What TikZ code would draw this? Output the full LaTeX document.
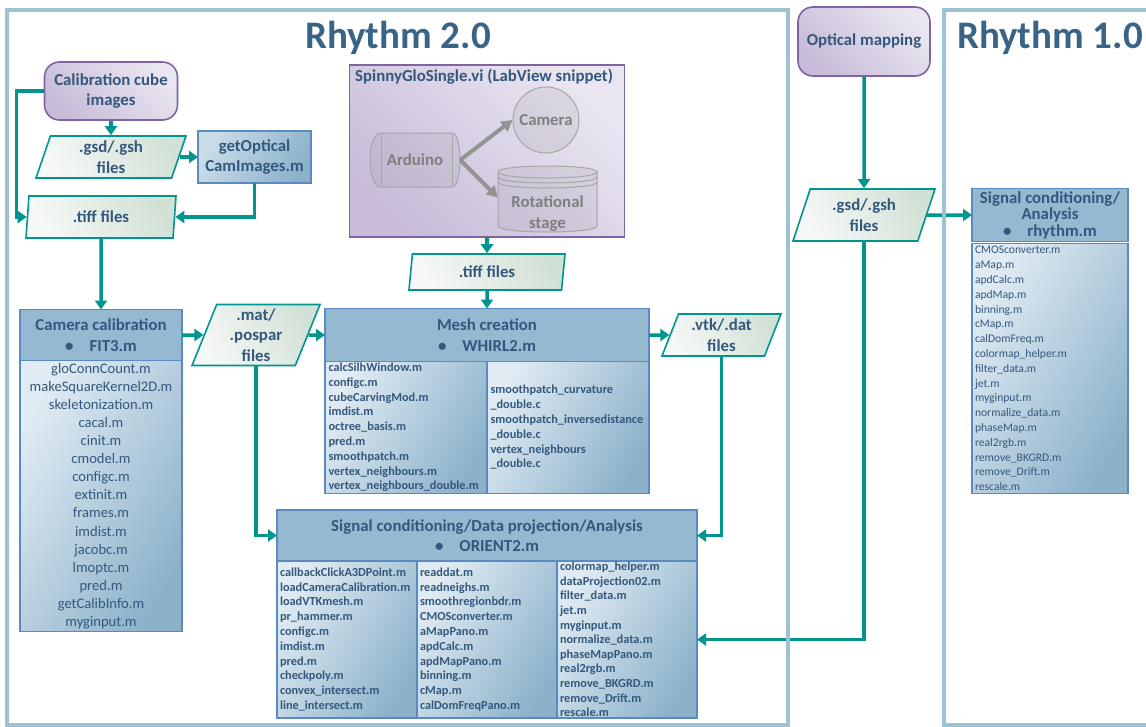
\documentclass[tikz,border=0pt]{standalone}
\usepackage{fontspec}
\setmainfont{Carlito}
\usepackage{tikz}
\usetikzlibrary{shapes.geometric, arrows.meta, positioning}
\usepackage{xcolor}

\definecolor{framecol}{HTML}{9CC2D3}
\definecolor{titlecol}{HTML}{3A6388}
\definecolor{txtblue}{HTML}{34587D}
\definecolor{flowcol}{HTML}{00968F}
\definecolor{boxline}{HTML}{5A8AC0}
\definecolor{hdrfill}{HTML}{95B9D0}
\definecolor{listlight}{HTML}{E0EBF3}
\definecolor{listdark}{HTML}{8CB2CA}
\definecolor{datalight}{HTML}{F6F8F6}
\definecolor{datadark}{HTML}{D2E1D6}
\definecolor{purpline}{HTML}{8064A2}
\definecolor{purplight}{HTML}{EAE6F1}
\definecolor{purpdark}{HTML}{C8BCD9}
\definecolor{grayline}{HTML}{A6A6A6}
\definecolor{graytext}{HTML}{7F7F7F}

\begin{document}
\begin{tikzpicture}[
  x=1pt, y=-1pt,
  bigfont/.style={font=\fontsize{16.8}{20.5}\selectfont\bfseries},
  smallfont/.style={font=\fontsize{12.3}{14.8}\selectfont\bfseries},
  frame/.style={draw=framecol, line width=4pt},
  rtitle/.style={text=titlecol, font=\fontsize{39}{42}\selectfont\bfseries},
  source/.style={bigfont, draw=purpline, line width=1.6pt, rounded corners=15pt,
    left color=purpdark, right color=purplight, shading angle=135, text=txtblue, align=center},
  datafile/.style={bigfont, trapezium, trapezium left angle=65, trapezium right angle=115,
    trapezium stretches body, draw=flowcol, line width=1.6pt, left color=datalight,
    right color=datadark, shading angle=120, text=txtblue, align=center, inner sep=0pt},
  mfile/.style={draw=boxline, line width=1.3pt, outer sep=0pt, inner sep=0pt, text=txtblue},
  hdr/.style={mfile, bigfont, fill=hdrfill, align=center},
  lst/.style={mfile, left color=listlight, right color=listdark, shading angle=60,
    align=left, inner xsep=3pt},
  flow/.style={draw=flowcol, line width=3.5pt, -{Triangle[length=9pt, width=12pt]}},
  gdev/.style={bigfont, text=graytext, text opacity=1, align=center},
  gbody/.style={draw=grayline, line width=1pt, fill=gray, fill opacity=0.12},
  gflow/.style={draw=gray!85, line width=4pt, -{Triangle[length=11pt, width=12pt]}}]
  \useasboundingbox (0,0) rectangle (1146,726);

  \node[rtitle] (rtwo) at (398,38) {Rhythm 2.0};
  \node[rtitle] (rone) at (1050,38) {Rhythm 1.0};

  \node[source, minimum width=133pt, minimum height=58pt] (calib) at (111,91) {Calibration cube\\images};
  \node[datafile, trapezium left angle=66, trapezium right angle=114,
    minimum width=150pt, minimum height=42pt] (gsdA) at (111,157) {.gsd/.gsh\\files};
  \node[hdr, left color=listlight!70!hdrfill, right color=listdark, shading angle=60,
    minimum width=113pt, minimum height=52pt] (getopt) at (254.5,157) {getOptical\\CamImages.m};
  \node[datafile, trapezium left angle=76, trapezium right angle=104,
    minimum width=150pt, minimum height=42pt] (tiffA) at (101,217) {.tiff files};

  \node[hdr, minimum width=162pt, minimum height=51pt] (fithead) at (101,335)
    {Camera calibration\\\textbullet\hspace{16pt}FIT3.m};
  \node[lst, below=0pt of fithead, minimum width=162pt, minimum height=271pt, text width=156pt,
    align=center, font=\fontsize{14.6}{18.1}\selectfont] (fitlist)
    {gloConnCount.m\\makeSquareKernel2D.m\\skeletonization.m\\cacal.m\\cinit.m\\cmodel.m\\
     configc.m\\extinit.m\\frames.m\\imdist.m\\jacobc.m\\lmoptc.m\\pred.m\\getCalibInfo.m\\myginput.m};

  \node[datafile, minimum width=128pt, minimum height=61pt] (mat) at (256,335) {.mat/\\.pospar\\files};

  % LabView acquisition
  \node[draw=purpline, line width=1.6pt, left color=purpdark, right color=purplight, shading angle=135,
    minimum width=275pt, minimum height=172pt, outer sep=0pt] (spinny) at (487,151) {};
  \node[bigfont, text=txtblue, anchor=west, inner sep=0pt] (spinnytitle) at (355,77)
    {SpinnyGloSingle.vi (LabView snippet)};
  \path[gbody] (381,133) -- (452,133) .. controls (462.7,133) and (462.7,187) .. (452,187)
    -- (381,187) .. controls (366.3,187) and (366.3,133) .. (381,133) -- cycle;
  \draw[draw=grayline, line width=1pt] (381,133) -- (381,187) (452,133) -- (452,187);
  \node[gdev, minimum width=90pt, minimum height=54pt] (ardu) at (415,160) {Arduino};
  \node[gbody, gdev, circle, minimum size=66pt, inner sep=0pt] (cam) at (546,120) {Camera};
  \path[gbody] (498,172) -- (498,226) .. controls (498,234) and (597,234) .. (597,226)
    -- (597,172) .. controls (597,164) and (498,164) .. (498,172) -- cycle;
  \draw[draw=grayline, line width=1pt] (498,172) .. controls (498,180) and (597,180) .. (597,172)
    (498,177) .. controls (498,185) and (597,185) .. (597,177)
    (498,182) .. controls (498,190) and (597,190) .. (597,182);
  \node[gdev, minimum width=99pt, minimum height=48pt] (stage) at (547.5,213.5) {Rotational\\stage};
  \draw[gflow] (ardu.east) -- (cam.west);
  \draw[gflow] (ardu.east) -- ([yshift=16pt]stage.west);

  \node[datafile, trapezium left angle=74, trapezium right angle=106,
    minimum width=156pt, minimum height=36pt] (tiffB) at (487,272) {.tiff files};

  \node[hdr, minimum width=324pt, minimum height=53pt] (meshhead) at (487,335)
    {Mesh creation\\\textbullet\hspace{16pt}WHIRL2.m};
  \node[lst, smallfont, anchor=north west, minimum width=162pt, minimum height=132pt, text width=155pt]
    (meshl) at (meshhead.south west)
    {calcSilhWindow.m\\configc.m\\cubeCarvingMod.m\\imdist.m\\octree\_basis.m\\pred.m\\
     smoothpatch.m\\vertex\_neighbours.m\\vertex\_neighbours\_double.m};
  \node[lst, smallfont, right=0pt of meshl, minimum width=162pt, minimum height=132pt, text width=155pt]
    (meshr)
    {smoothpatch\_curvature\\\_double.c\\smoothpatch\_inversedistance\\\_double.c\\
     vertex\_neighbours\\\_double.c};

  \node[datafile, trapezium left angle=63, trapezium right angle=117,
    minimum width=119pt, minimum height=42pt] (vtk) at (721.5,335) {.vtk/.dat\\files};

  \node[hdr, minimum width=420pt, minimum height=51pt] (sighead) at (487,535.5)
    {Signal conditioning/Data projection/Analysis\\\textbullet\hspace{16pt}ORIENT2.m};
  \node[lst, smallfont, anchor=north west, minimum width=140pt, minimum height=157pt, text width=134pt]
    (sigl) at (sighead.south west)
    {callbackClickA3DPoint.m\\loadCameraCalibration.m\\loadVTKmesh.m\\pr\_hammer.m\\configc.m\\
     imdist.m\\pred.m\\checkpoly.m\\convex\_intersect.m\\line\_intersect.m};
  \node[lst, smallfont, right=0pt of sigl, minimum width=140pt, minimum height=157pt, text width=134pt]
    (sigm)
    {readdat.m\\readneighs.m\\smoothregionbdr.m\\CMOSconverter.m\\aMapPano.m\\apdCalc.m\\
     apdMapPano.m\\binning.m\\cMap.m\\calDomFreqPano.m};
  \node[lst, right=0pt of sigm, minimum width=140pt, minimum height=157pt, text width=134pt,
    font=\fontsize{12.3}{14.6}\selectfont\bfseries] (sigr)
    {colormap\_helper.m\\dataProjection02.m\\filter\_data.m\\jet.m\\myginput.m\\normalize\_data.m\\
     phaseMapPano.m\\real2rgb.m\\remove\_BKGRD.m\\remove\_Drift.m\\rescale.m};

  \node[source, minimum width=132pt, minimum height=69pt] (optmap) at (864,41.5) {Optical mapping};
  \node[datafile, trapezium left angle=62, trapezium right angle=118,
    minimum width=142pt, minimum height=52pt] (gsdB) at (864,215) {.gsd/.gsh\\files};

  \node[hdr, font=\fontsize{16.8}{16.5}\selectfont\bfseries, minimum width=156pt, minimum height=53pt]
    (rhyhead) at (1050,215) {Signal conditioning/\\Analysis\\\textbullet\hspace{16pt}rhythm.m};
  \node[lst, below=2pt of rhyhead, minimum width=156pt, minimum height=250pt, text width=150pt,
    font=\fontsize{11.6}{14.8}\selectfont] (rhylist)
    {CMOSconverter.m\\aMap.m\\apdCalc.m\\apdMap.m\\binning.m\\cMap.m\\calDomFreq.m\\
     colormap\_helper.m\\filter\_data.m\\jet.m\\myginput.m\\normalize\_data.m\\phaseMap.m\\
     real2rgb.m\\remove\_BKGRD.m\\remove\_Drift.m\\rescale.m};

  \draw[flow] (calib.west) -- ++(-27,0) |- (tiffA);
  \draw[flow] (calib) -- (gsdA);
  \draw[flow] (gsdA) -- (getopt);
  \draw[flow] (getopt) |- (tiffA);
  \draw[flow] (tiffA) -- (fithead);
  \draw[flow] (fithead) -- (mat);
  \draw[flow] (mat) -- (meshhead);
  \draw[flow] (mat) |- (sighead);
  \draw[flow] (spinny) -- (tiffB);
  \draw[flow] (tiffB) -- (meshhead);
  \draw[flow] (meshhead) -- (vtk);
  \draw[flow] (vtk) |- (sighead);
  \draw[flow] (optmap) -- (gsdB);
  \draw[flow] (gsdB) -- (rhyhead);
  \draw[flow] (gsdB) |- (sigr);

  \draw[frame] (7,10) rectangle (788,725);
  \draw[frame] (944,10) rectangle (1160,725);
\end{tikzpicture}
\end{document}
